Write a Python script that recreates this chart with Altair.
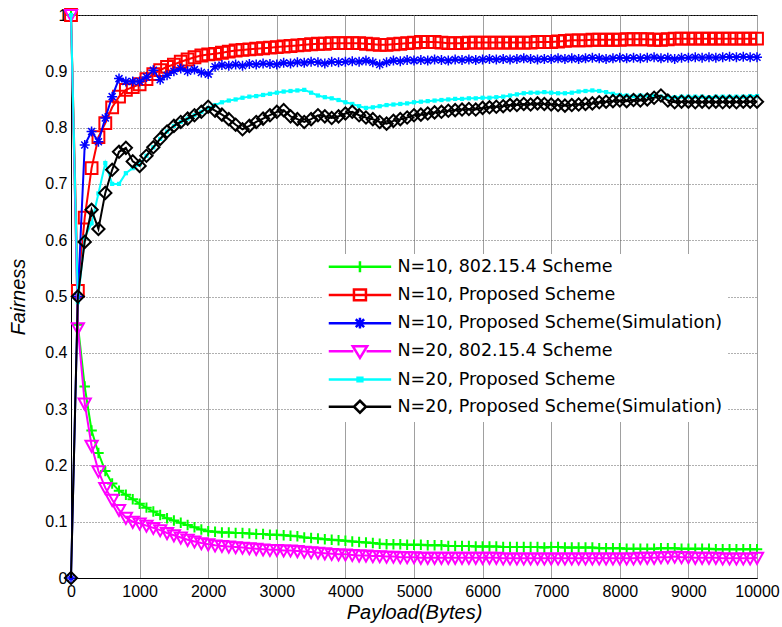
import altair as alt
import pandas as pd

payload = list(range(0, 10001, 100))

names = [
    "N=10, 802.15.4 Scheme",
    "N=10, Proposed Scheme",
    "N=10, Proposed Scheme(Simulation)",
    "N=20, 802.15.4 Scheme",
    "N=20, Proposed Scheme",
    "N=20, Proposed Scheme(Simulation)",
]
colors = ["#00ff00", "#ff0000", "#0000ff", "#ff00ff", "#00ffff", "#000000"]

n10_std = [
    1.0, 0.45, 0.34, 0.262, 0.222, 0.19, 0.168, 0.155, 0.148, 0.14,
    0.132, 0.125, 0.118, 0.112, 0.106, 0.102, 0.098, 0.094, 0.09, 0.086,
    0.083, 0.082, 0.081, 0.081, 0.08, 0.08, 0.079, 0.078, 0.078, 0.077,
    0.077, 0.076, 0.075, 0.074, 0.072, 0.071, 0.07, 0.069, 0.068, 0.067,
    0.066, 0.065, 0.064, 0.063, 0.062, 0.061, 0.06, 0.06, 0.06, 0.059,
    0.059, 0.059, 0.058, 0.058, 0.058, 0.057, 0.057, 0.057, 0.057, 0.056,
    0.056, 0.056, 0.056, 0.055, 0.055, 0.055, 0.055, 0.055, 0.055, 0.054,
    0.055, 0.055, 0.054, 0.054, 0.054, 0.054, 0.054, 0.053, 0.053, 0.053,
    0.053, 0.052, 0.052, 0.052, 0.052, 0.052, 0.053, 0.053, 0.053, 0.052,
    0.052, 0.052, 0.052, 0.052, 0.051, 0.051, 0.051, 0.051, 0.051, 0.051,
    0.051,
]

n10_prop = [
    1.0, 0.51, 0.64, 0.728, 0.783, 0.808, 0.836, 0.855, 0.867, 0.872,
    0.877, 0.886, 0.895, 0.902, 0.908, 0.912, 0.917, 0.921, 0.925, 0.928,
    0.93, 0.931, 0.933, 0.935, 0.937, 0.938, 0.939, 0.94, 0.941, 0.942,
    0.943, 0.944, 0.945, 0.946, 0.947, 0.948, 0.949, 0.949, 0.95, 0.95,
    0.95, 0.95, 0.95, 0.949, 0.948, 0.947, 0.947, 0.948, 0.949, 0.95,
    0.951, 0.952, 0.952, 0.952, 0.951, 0.95, 0.95, 0.95, 0.951, 0.951,
    0.951, 0.951, 0.951, 0.951, 0.951, 0.951, 0.951, 0.951, 0.952, 0.952,
    0.952, 0.953, 0.954, 0.955, 0.955, 0.955, 0.956, 0.956, 0.956, 0.956,
    0.956, 0.957, 0.957, 0.957, 0.957, 0.956, 0.956, 0.957, 0.958, 0.958,
    0.958, 0.958, 0.958, 0.958, 0.958, 0.958, 0.958, 0.958, 0.958, 0.958,
    0.958,
]

n10_sim = [
    0.0, 0.5, 0.769, 0.793, 0.775, 0.817, 0.855, 0.887, 0.882, 0.882,
    0.882, 0.89, 0.902, 0.885, 0.893, 0.9, 0.905, 0.9, 0.903, 0.898,
    0.895, 0.908, 0.911, 0.91, 0.912, 0.91, 0.913, 0.912, 0.914, 0.913,
    0.912, 0.915, 0.914, 0.916, 0.915, 0.917, 0.916, 0.914, 0.917, 0.916,
    0.917, 0.918, 0.917, 0.919, 0.916, 0.912, 0.916, 0.919, 0.918, 0.92,
    0.919, 0.92, 0.919, 0.921, 0.92, 0.919, 0.921, 0.92, 0.921, 0.92,
    0.921, 0.922, 0.921, 0.922, 0.921, 0.922, 0.923, 0.922, 0.921, 0.922,
    0.922, 0.923, 0.922, 0.923, 0.922, 0.923, 0.924, 0.923, 0.922, 0.923,
    0.924, 0.923, 0.924, 0.923, 0.924, 0.925, 0.923, 0.924, 0.922, 0.924,
    0.924, 0.925, 0.924, 0.925, 0.924, 0.925, 0.926, 0.925, 0.926, 0.925,
    0.925,
]

n20_std = [
    1.0, 0.444, 0.31, 0.235, 0.19, 0.16, 0.139, 0.121, 0.107, 0.1,
    0.097, 0.093, 0.089, 0.085, 0.08, 0.076, 0.072, 0.068, 0.065, 0.062,
    0.06, 0.058, 0.057, 0.056, 0.055, 0.054, 0.053, 0.052, 0.051, 0.05,
    0.05, 0.049, 0.049, 0.048, 0.047, 0.046, 0.045, 0.044, 0.043, 0.042,
    0.042, 0.041, 0.04, 0.04, 0.039, 0.039, 0.038, 0.038, 0.037, 0.037,
    0.037, 0.036, 0.036, 0.036, 0.036, 0.036, 0.036, 0.036, 0.036, 0.036,
    0.036, 0.036, 0.036, 0.035, 0.035, 0.035, 0.035, 0.035, 0.035, 0.035,
    0.035, 0.035, 0.035, 0.035, 0.035, 0.035, 0.035, 0.035, 0.035, 0.035,
    0.035, 0.035, 0.035, 0.036, 0.036, 0.036, 0.037, 0.037, 0.038, 0.037,
    0.037, 0.036, 0.036, 0.036, 0.036, 0.035, 0.035, 0.035, 0.035, 0.035,
    0.036,
]

n20_prop = [
    1.0, 0.49, 0.605, 0.63, 0.683, 0.737, 0.70, 0.70, 0.719, 0.728,
    0.735, 0.75, 0.765, 0.78, 0.793, 0.803, 0.81, 0.816, 0.822, 0.828,
    0.835, 0.84, 0.845, 0.848, 0.85, 0.853, 0.855, 0.856, 0.858, 0.86,
    0.862, 0.864, 0.865, 0.866, 0.867, 0.862, 0.857, 0.854, 0.852, 0.849,
    0.845, 0.842, 0.838, 0.835, 0.836, 0.838, 0.84, 0.841, 0.842, 0.843,
    0.845, 0.846, 0.847, 0.848, 0.849, 0.85, 0.851, 0.851, 0.852, 0.852,
    0.853, 0.853, 0.854, 0.855, 0.857, 0.859, 0.861, 0.862, 0.862, 0.863,
    0.862, 0.861, 0.861, 0.862, 0.864, 0.865, 0.866, 0.865, 0.863, 0.86,
    0.858, 0.857, 0.856, 0.857, 0.857, 0.856, 0.855, 0.855, 0.854, 0.855,
    0.855, 0.855, 0.855, 0.854, 0.855, 0.855, 0.855, 0.855, 0.855, 0.856,
    0.856,
]

n20_sim = [
    0.0, 0.50, 0.597, 0.654, 0.62, 0.684, 0.725, 0.757, 0.764, 0.74,
    0.732, 0.75, 0.765, 0.78, 0.793, 0.803, 0.81, 0.816, 0.822, 0.828,
    0.837, 0.83, 0.823, 0.815, 0.805, 0.797, 0.803, 0.81, 0.816, 0.822,
    0.828, 0.831, 0.82, 0.815, 0.81, 0.815, 0.822, 0.82, 0.817, 0.82,
    0.825, 0.828, 0.822, 0.818, 0.815, 0.81, 0.807, 0.812, 0.815, 0.818,
    0.822, 0.823, 0.825, 0.827, 0.828, 0.83, 0.831, 0.832, 0.833, 0.832,
    0.835, 0.836, 0.837, 0.838, 0.84, 0.84, 0.842, 0.841, 0.843, 0.842,
    0.841, 0.84, 0.839, 0.84, 0.841, 0.842, 0.843, 0.845, 0.846, 0.847,
    0.848, 0.847, 0.849, 0.848, 0.85, 0.853, 0.857, 0.848, 0.845, 0.846,
    0.846, 0.845, 0.846, 0.845, 0.846, 0.845, 0.846, 0.845, 0.846, 0.846,
    0.846,
]

series_values = [n10_std, n10_prop, n10_sim, n20_std, n20_prop, n20_sim]

x_ticks = list(range(0, 10001, 1000))
y_ticks = [0, 0.1, 0.2, 0.3, 0.4, 0.5, 0.6, 0.7, 0.8, 0.9, 1]

rows = []
for name, vals in zip(names, series_values):
    assert len(vals) == len(payload)
    for p, v in zip(payload, vals):
        rows.append({"payload": p, "fairness": v, "series": name})
df = pd.DataFrame(rows)

# marker styles for the plot
marker_shape = [
    "M-1,0H1M0,-1V1",
    "square",
    "M-1,0H1M0,-1V1M-0.7,-0.7L0.7,0.7M-0.7,0.7L0.7,-0.7",
    "M-1,-0.8H1L0,1Z",
    "square",
    "diamond",
]
marker_size = [110, 140, 100, 150, 18, 150]
marker_filled = [False, False, False, False, True, False]
marker_sw = [2, 2, 1.5, 2, 1, 2]
line_sw = [2, 2, 2, 2, 2, 2]

# legend symbols (line sample + marker)
legend_paths = [
    "M-1,0H9.4M4.2,-0.9V0.9",
    "M-1,0H9.4M3.2,-0.9H5.2V0.9H3.2Z",
    "M-1,0H9.4M4.2,-0.9V0.9M3.5,-0.65L4.9,0.65M3.5,0.65L4.9,-0.65",
    "M-1,0H3.1M5.3,0H9.4M3.0,-0.85H5.4L4.2,1.1Z",
    "M-1,0H9.4M3.8,-0.3H4.6V0.3H3.8Z",
    "M-1,0H3.2M5.2,0H9.4M4.2,-1L5.2,0L4.2,1L3.2,0Z",
]
legend_sw = [2.5, 2.5, 1, 2.5, 2.5, 2.5]

x_enc = alt.X(
    "payload:Q",
    scale=alt.Scale(domain=[0, 10000], nice=False),
    axis=alt.Axis(
        values=x_ticks, format="d", labelFlush=False, grid=True,
        gridColor="#a0a0a0", gridWidth=1, ticks=False, domainColor="black",
        labelFont="Liberation Sans", labelFontSize=16, labelColor="black",
        labelPadding=5, title="Payload(Bytes)", titleFont="Liberation Sans",
        titleFontSize=20, titleFontStyle="italic", titleFontWeight="normal",
        titleColor="black", titlePadding=3,
    ),
)
y_enc = alt.Y(
    "fairness:Q",
    scale=alt.Scale(domain=[0, 1], nice=False),
    axis=alt.Axis(
        values=y_ticks, format="~g", labelFlush=False, grid=True,
        gridColor="#606060", gridDash=[1, 2], gridWidth=1, ticks=False,
        domainColor="black", labelFont="Liberation Sans", labelFontSize=16,
        labelColor="black", labelPadding=4, title="Fairness",
        titleFont="Liberation Sans", titleFontSize=20, titleFontStyle="italic",
        titleFontWeight="normal", titleColor="black", titlePadding=16,
    ),
)

base = alt.Chart(df)
layers = []
for i, name in enumerate(names):
    sub = base.transform_filter(alt.datum.series == name)
    layers.append(
        sub.mark_line(color=colors[i], strokeWidth=line_sw[i]).encode(x=x_enc, y=y_enc)
    )
    pt_kwargs = dict(shape=marker_shape[i], size=marker_size[i], strokeWidth=marker_sw[i], opacity=1)
    layers.append(
        sub.mark_point(filled=marker_filled[i], color=colors[i], **pt_kwargs).encode(x=x_enc, y=y_enc)
    )

leg = alt.Legend(
    title=None, orient="none", legendX=251, legendY=239, symbolSize=144,
    labelFont="DejaVu Sans", labelFontSize=17.5, labelColor="black",
    labelOffset=54, rowPadding=6.2, padding=4, fillColor="white",
    symbolOpacity=1, labelLimit=500,
)
legend_layer = base.transform_filter(alt.datum.payload < 0).mark_point(filled=False, opacity=1).encode(
    x=x_enc,
    y=y_enc,
    color=alt.Color("series:N", scale=alt.Scale(domain=names, range=colors), legend=leg),
    shape=alt.Shape("series:N", scale=alt.Scale(domain=names, range=legend_paths), legend=leg),
    strokeWidth=alt.StrokeWidth("series:N", scale=alt.Scale(domain=names, range=legend_sw), legend=leg),
)
layers.append(legend_layer)

chart = (
    alt.layer(*layers)
    .properties(
        width=686, height=563,
        padding={"left": 71, "top": 15, "right": 25, "bottom": 49},
        autosize=alt.AutoSizeParams(type="none"),
        background="white",
    )
    .configure_view(stroke="black", strokeWidth=1)
)

chart.save("out.html", embed_options={"renderer": "svg", "actions": False})
